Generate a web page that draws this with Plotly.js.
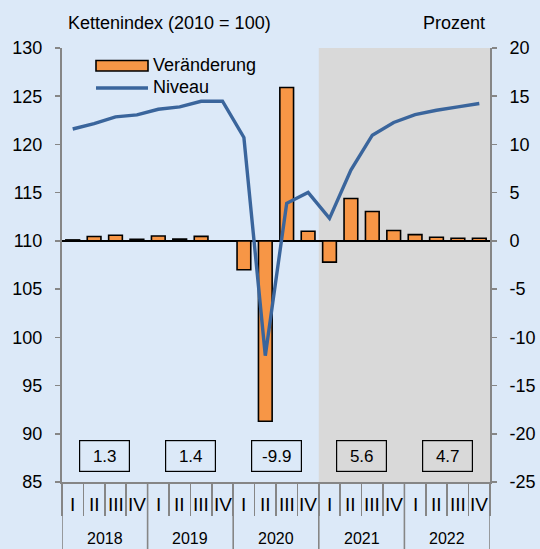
<!DOCTYPE html>
<html>
<head>
<meta charset="utf-8">
<script src="https://cdn.plot.ly/plotly-3.0.1.min.js"></script>
<style>
  html, body { margin: 0; padding: 0; background: #dce9f8; }
  #chart { width: 540px; height: 549px; }
</style>
</head>
<body>
<div id="chart"></div>
<script>
// ---- data ----
const years = ['2018', '2019', '2020', '2021', '2022'];
const quarters = ['I', 'II', 'III', 'IV'];
const annualGrowth = [1.3, 1.4, -9.9, 5.6, 4.7];
const change = [0.1, 0.45, 0.58, 0.17, 0.5, 0.18, 0.47, -0.03,
                -3.0, -18.7, 15.9, 1.0, -2.2, 4.4, 3.05, 1.07,
                0.65, 0.38, 0.28, 0.28];
const level = [121.6, 122.15, 122.86, 123.07, 123.65, 123.9, 124.48, 124.48,
               120.72, 98.1, 113.9, 115.03, 112.34, 117.34, 120.96, 122.28,
               123.1, 123.55, 123.9, 124.24];
const leftTicks = [85, 90, 95, 100, 105, 110, 115, 120, 125, 130];
const rightTicks = [-25, -20, -15, -10, -5, 0, 5, 10, 15, 20];
const forecastStartYear = '2021';
const leftTitle = 'Kettenindex (2010 = 100)';
const rightTitle = 'Prozent';
const legendBar = 'Veränderung';
const legendLine = 'Niveau';

// ---- layout geometry (pixels) ----
const W = 540, H = 549;
const PL = 62, PR = 490, PT = 48, PB = 482.5;
const pw = PR - PL, ph = PB - PT;
const px = x => (x - PL) / pw;      // pixel -> paper x
const py = y => (PB - y) / ph;      // pixel -> paper y

const FONT = 'Liberation Sans, Arial, sans-serif';
const NARROW = 'Liberation Sans Narrow, Arial Narrow, Liberation Sans, Arial, sans-serif';
const AXIS = '#868686';
const BG = '#dce9f8';

const nQ = quarters.length;
const xs = [];
const qLabels = [];
years.forEach((y, yi) => quarters.forEach((q, qi) => { xs.push(yi * nQ + qi); qLabels.push(q); }));

const traces = [
  {
    type: 'bar', x: xs, y: change, yaxis: 'y', xaxis: 'x',
    width: 0.64,
    marker: { color: '#f79646', line: { color: '#000000', width: 1.6 } },
    showlegend: false, hoverinfo: 'skip'
  },
  {
    type: 'scatter', mode: 'lines', x: xs, y: level, yaxis: 'y2', xaxis: 'x',
    line: { color: '#3a659c', width: 3.4 },
    showlegend: false, hoverinfo: 'skip'
  }
];

const shapes = [];
const annotations = [];

// forecast shading
const fStart = years.indexOf(forecastStartYear) * nQ - 0.5;
shapes.push({ type: 'rect', xref: 'x', yref: 'paper', x0: fStart, x1: xs.length - 0.5, y0: 0, y1: 1,
  fillcolor: '#d9d9d9', line: { width: 0 }, layer: 'below' });

// year separators
for (let k = 0; k <= years.length; k++) {
  shapes.push({ type: 'line', xref: 'x', yref: 'paper', x0: k * nQ - 0.5, x1: k * nQ - 0.5,
    y0: 0, y1: py(H + 2), line: { color: AXIS, width: 1.6 }, layer: 'above' });
}

// quarter labels
xs.forEach((x, i) => {
  annotations.push({ xref: 'x', yref: 'paper', x: x, y: py(505), text: qLabels[i], showarrow: false,
    xanchor: 'center', yanchor: 'middle', font: { family: NARROW, size: 19, color: '#000' } });
});
// year labels + annual growth boxes
years.forEach((y, yi) => {
  const cx = yi * nQ + (nQ - 1) / 2;
  annotations.push({ xref: 'x', yref: 'paper', x: cx, y: py(539), text: y, showarrow: false,
    xanchor: 'center', yanchor: 'middle', font: { family: FONT, size: 16, color: '#000' } });
  annotations.push({ xref: 'x', yref: 'paper', x: cx, y: py(456.5), text: annualGrowth[yi].toFixed(1),
    showarrow: false, xanchor: 'center', yanchor: 'middle', width: 47, height: 28, borderpad: 1,
    bordercolor: '#000', borderwidth: 1.2, bgcolor: 'rgba(0,0,0,0)',
    font: { family: FONT, size: 17, color: '#000' } });
});

// axis titles
annotations.push({ xref: 'paper', yref: 'paper', x: px(66), y: py(22.5), text: leftTitle, showarrow: false,
  xanchor: 'left', yanchor: 'middle', font: { family: FONT, size: 18, color: '#000' } });
annotations.push({ xref: 'paper', yref: 'paper', x: px(487), y: py(22.5), text: rightTitle, showarrow: false,
  xanchor: 'right', yanchor: 'middle', font: { family: FONT, size: 18, color: '#000' } });

// legend (manual)
shapes.push({ type: 'rect', xref: 'paper', yref: 'paper', x0: px(96), x1: px(148), y0: py(71), y1: py(60.5),
  fillcolor: '#f79646', line: { color: '#000', width: 1.6 }, layer: 'above' });
shapes.push({ type: 'line', xref: 'paper', yref: 'paper', x0: px(96), x1: px(148), y0: py(88), y1: py(88),
  line: { color: '#3a659c', width: 3.4 }, layer: 'above' });
annotations.push({ xref: 'paper', yref: 'paper', x: px(151), y: py(65), text: legendBar, showarrow: false,
  xanchor: 'left', yanchor: 'middle', font: { family: FONT, size: 18, color: '#000' } });
annotations.push({ xref: 'paper', yref: 'paper', x: px(151), y: py(87), text: legendLine, showarrow: false,
  xanchor: 'left', yanchor: 'middle', font: { family: FONT, size: 18, color: '#000' } });

const boundaries = [];
for (let i = 0; i <= xs.length; i++) boundaries.push(i - 0.5);

const layout = {
  width: W, height: H,
  margin: { l: PL, r: W - PR, t: PT, b: H - PB, pad: 0 },
  paper_bgcolor: BG, plot_bgcolor: 'rgba(0,0,0,0)',
  showlegend: false,
  bargap: 0,
  xaxis: {
    range: [-0.5, xs.length - 0.5], fixedrange: true,
    tickmode: 'array', tickvals: boundaries, ticktext: boundaries.map(() => ''),
    ticks: 'outside', ticklen: 32, tickwidth: 1.6, tickcolor: AXIS,
    showline: true, linecolor: AXIS, linewidth: 2, showgrid: false, zeroline: false
  },
  yaxis: {
    side: 'right', range: [-25, 20],
    tickmode: 'array', tickvals: rightTicks, ticktext: rightTicks.map(v => String(v)),
    ticks: 'outside', ticklen: 5, tickwidth: 1.6, tickcolor: AXIS, ticklabelstandoff: 9,
    showline: true, linecolor: AXIS, linewidth: 2, showgrid: false,
    zeroline: true, zerolinecolor: '#000', zerolinewidth: 1.5,
    tickfont: { family: FONT, size: 18, color: '#000' }
  },
  yaxis2: {
    side: 'left', overlaying: 'y', range: [85, 130],
    tickmode: 'array', tickvals: leftTicks, ticktext: leftTicks.map(v => String(v)),
    ticks: 'outside', ticklen: 5, tickwidth: 1.6, tickcolor: AXIS, ticklabelstandoff: 9,
    showline: true, linecolor: AXIS, linewidth: 2, showgrid: false, zeroline: false,
    tickfont: { family: FONT, size: 18, color: '#000' }
  },
  shapes: shapes,
  annotations: annotations
};

Plotly.newPlot('chart', traces, layout, { staticPlot: true, displayModeBar: false });
</script>
</body>
</html>
